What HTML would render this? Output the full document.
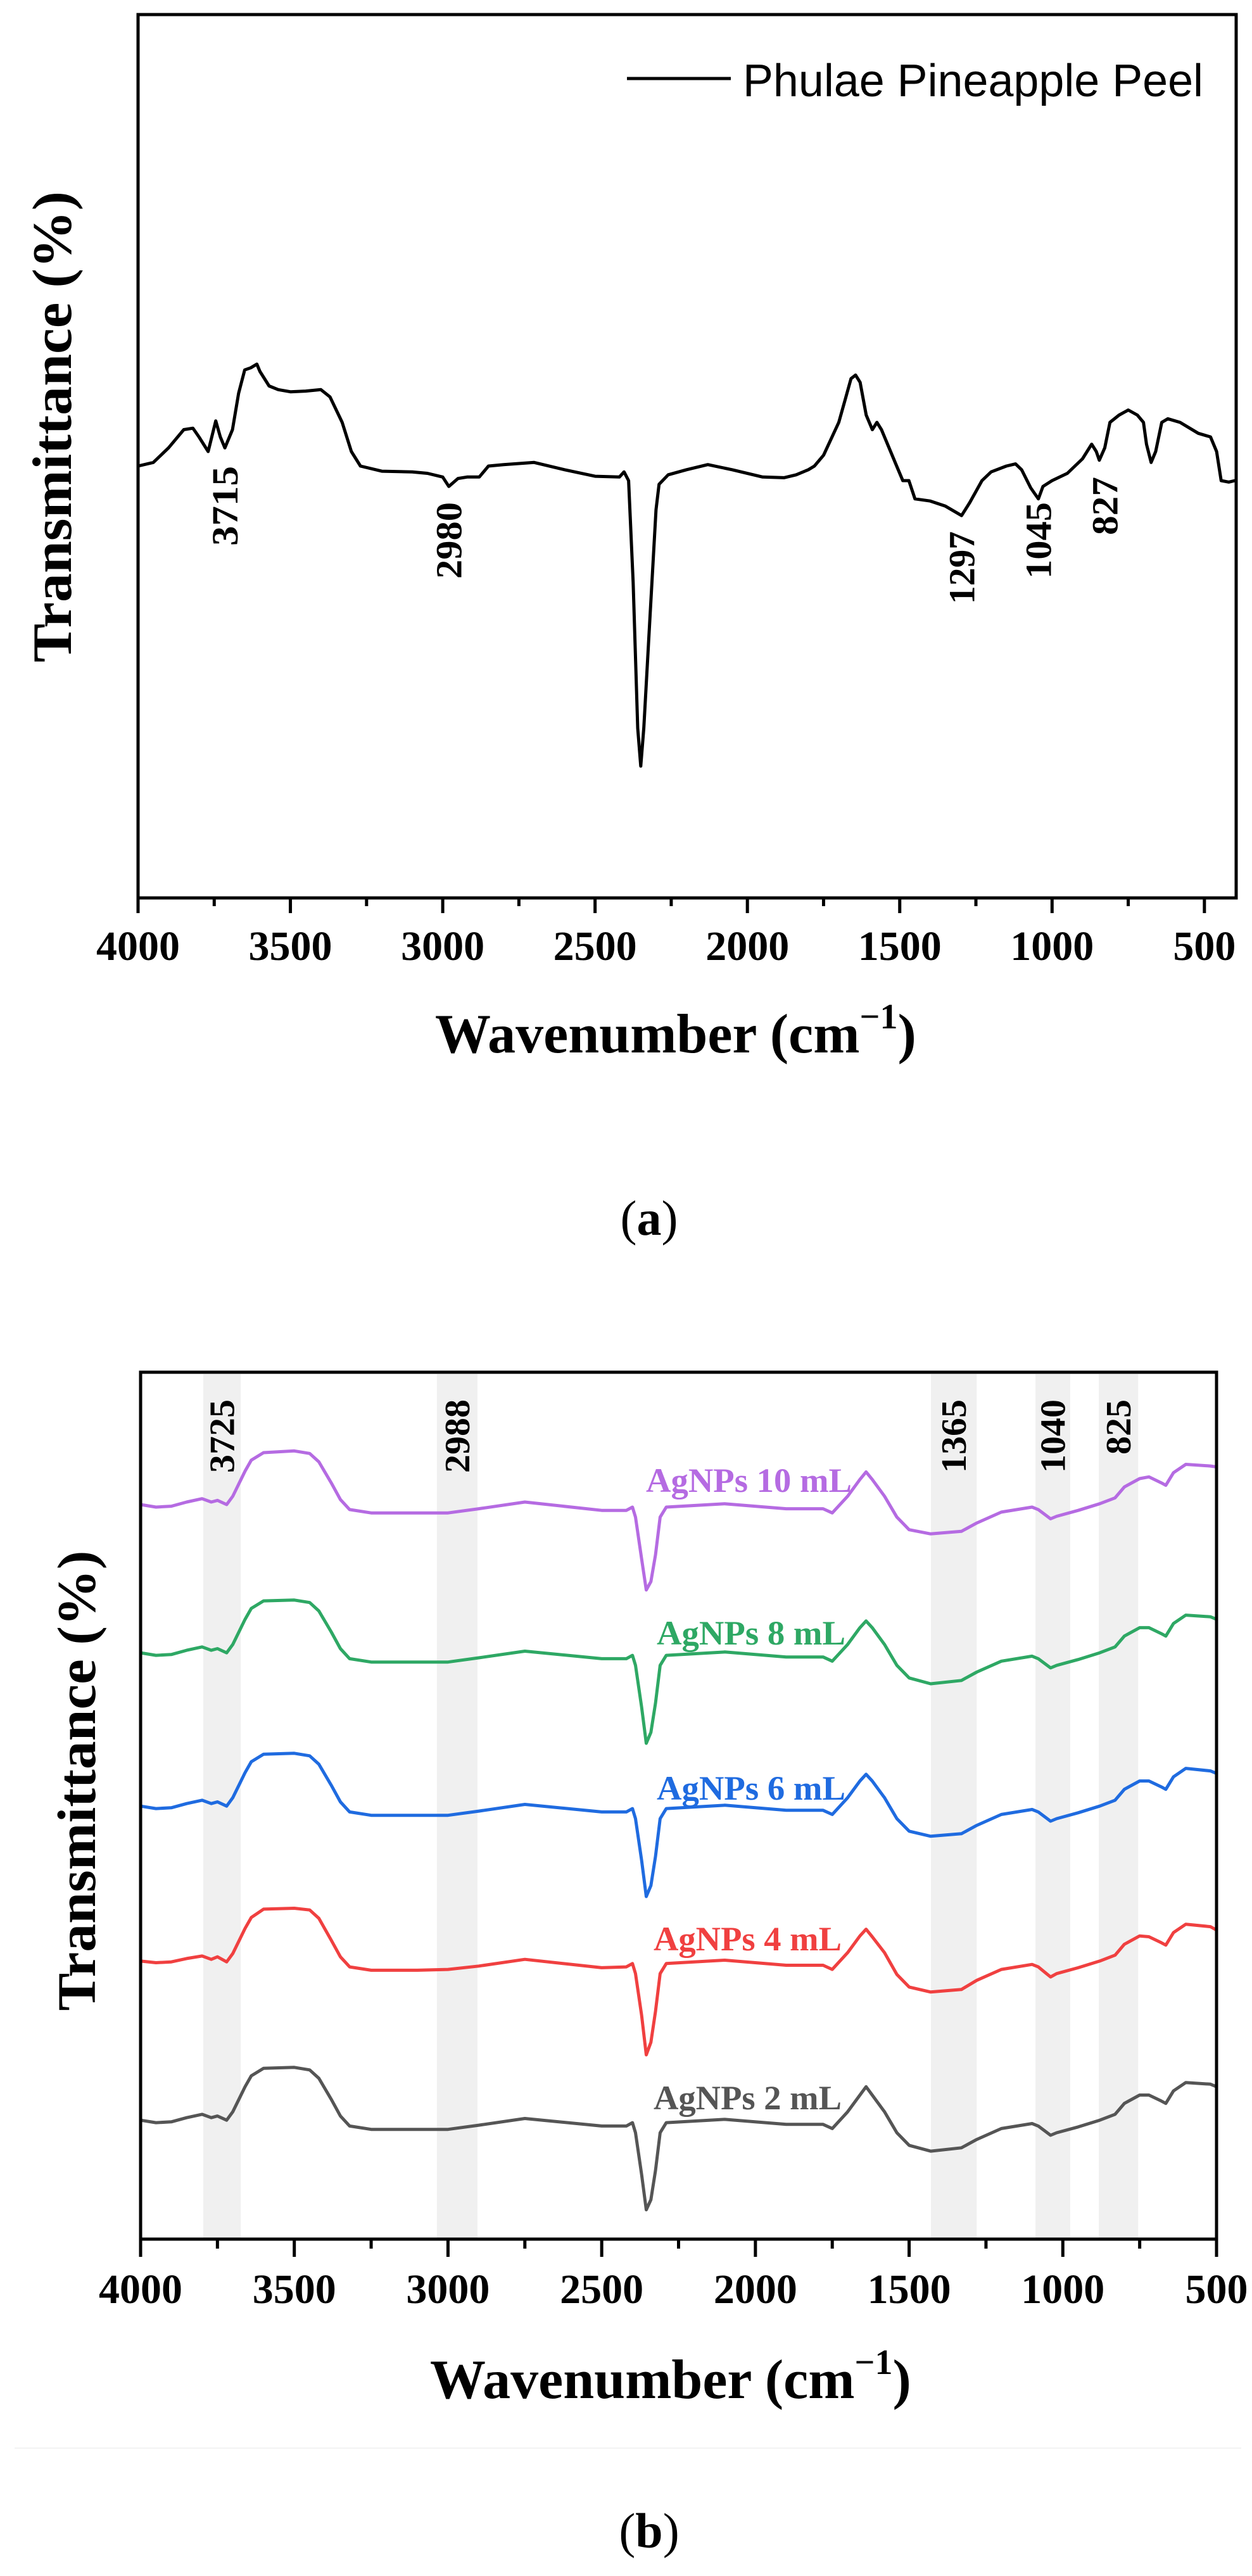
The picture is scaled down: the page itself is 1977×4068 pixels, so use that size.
<!DOCTYPE html>
<html><head><meta charset="utf-8">
<style>
html,body{margin:0;padding:0;background:#fff;}
svg{display:block;}
text{font-family:"Liberation Serif",serif;font-weight:bold;fill:#000;}
.sans{font-family:"Liberation Sans",sans-serif;font-weight:normal;}
</style></head>
<body>
<svg id="fig" xmlns="http://www.w3.org/2000/svg" width="1977" height="4068" viewBox="0 0 1977 4068">
<rect x="0" y="0" width="1977" height="4068" fill="#fff"/>
<g id="chartA"></g>
<g id="chartB"></g>
<line x1="23" y1="3866" x2="1960" y2="3866" stroke="#f3f3f3" stroke-width="2"/>
<text x="1025" y="1950" font-size="78" text-anchor="middle" style="font-weight:normal">(<tspan style="font-weight:bold">a</tspan>)</text>
<text x="1025" y="4023" font-size="78" text-anchor="middle" style="font-weight:normal">(<tspan style="font-weight:bold">b</tspan>)</text>
</svg>
<script>
// ---------- Chart A data ----------
const wnA = [4000,3950,3900,3850,3820,3800,3770,3745,3730,3715,3690,3670,3650,3630,3610,3600,3570,3540,3500,3450,3400,3370,3330,3300,3270,3200,3100,3050,3000,2980,2950,2920,2880,2850,2800,2700,2600,2500,2420,2405,2390,2375,2360,2350,2340,2320,2300,2290,2260,2200,2130,2050,1950,1880,1840,1800,1780,1750,1700,1680,1660,1645,1630,1610,1590,1575,1560,1540,1510,1490,1470,1450,1400,1350,1297,1270,1230,1200,1150,1120,1100,1070,1045,1030,1000,950,900,870,855,845,827,810,780,750,720,700,690,675,660,640,620,580,520,480,460,445,420,400];
const peelT = [593,598,618,643,645,633,613,655,633,618,643,693,725,728,733,723,703,698,695,696,698,688,653,613,593,586,585,583,578,565,576,578,578,593,595,598,588,579,578,585,573,433,233,181,233,383,533,568,581,588,595,588,578,577,581,588,593,608,653,683,713,718,708,663,643,653,643,623,593,573,573,548,545,538,525,543,573,585,593,596,588,563,548,565,573,583,603,623,613,601,618,653,663,670,663,653,623,598,613,653,658,653,638,633,613,573,571,573];
const xTicksA = [4000,3500,3000,2500,2000,1500,1000,500];
const minorTicksA = [3750,3250,2750,2250,1750,1250,750];
const peakLabelsA = ["3715","2980","1297","1045","827"];
const peakWnA = [3715,2980,1297,1045,827];
const peakTopA = [736,793,839,793,753];
const peakLenA = [126,121,115,121,92];

// ---------- Chart B data ----------
const wnB = [4000,3950,3900,3850,3800,3770,3750,3720,3700,3660,3640,3600,3500,3450,3420,3380,3350,3320,3250,3100,3000,2900,2750,2500,2420,2400,2390,2370,2355,2340,2325,2310,2290,2100,1900,1780,1750,1700,1660,1640,1620,1580,1540,1500,1430,1330,1280,1200,1100,1080,1040,1020,950,880,830,800,750,720,680,665,640,600,520,500];
const ag2 = [142,139,140,145,149,145,147,142,152,182,195,204,205,202,192,167,147,135,131,131,131,136,144,135,135,139,127,77,35,47,82,127,139,143,137,137,132,152,172,182,172,152,127,112,105,109,119,132,138,135,124,127,134,142,149,162,172,172,165,162,177,187,185,182];
const ag4 = [332,330,331,335,338,334,337,331,341,371,384,394,395,393,383,357,337,325,321,321,322,326,334,324,325,329,317,267,220,235,272,317,329,333,327,327,322,342,362,370,361,342,316,301,295,298,309,322,328,325,313,317,324,332,339,352,362,361,354,351,366,376,373,369];
const ag6 = [517,514,515,520,524,520,522,517,527,557,570,579,580,577,567,542,522,510,506,506,506,511,519,510,510,514,502,452,409,422,457,502,514,518,512,512,507,527,547,555,547,527,502,487,481,484,494,507,513,510,499,502,509,517,524,537,547,547,540,537,552,562,559,556];
const ag8 = [700,697,698,703,707,703,705,700,710,740,753,762,763,760,750,725,705,693,689,689,689,694,702,693,693,697,685,635,592,605,640,685,697,701,695,695,690,710,730,738,730,710,685,670,663,667,677,690,696,693,682,685,692,700,707,720,730,730,723,720,735,745,743,740];
const ag10 = [877,874,875,880,884,880,882,877,887,917,930,939,941,938,928,903,883,871,867,867,867,872,880,870,870,874,862,812,775,785,817,862,874,878,872,872,867,887,907,916,907,887,862,847,842,845,855,868,874,871,860,863,870,878,885,898,908,910,903,900,915,925,923,922];
const seriesNamesB = ["AgNPs 2 mL","AgNPs 4 mL","AgNPs 6 mL","AgNPs 8 mL","AgNPs 10 mL"];
const xTicksB = [4000,3500,3000,2500,2000,1500,1000,500];
const minorTicksB = [3750,3250,2750,2250,1750,1250,750];
const bandLabelsB = ["3725","2988","1365","1040","825"];
const bandLoB = [3796,3036,1429,1089,883];
const bandHiB = [3674,2904,1280,976,755];

const NS = "http://www.w3.org/2000/svg";
function mk(tag, attrs, parent, txt){
  const e = document.createElementNS(NS, tag);
  for (const k in attrs) e.setAttribute(k, attrs[k]);
  if (txt !== undefined) e.textContent = txt;
  parent.appendChild(e);
  return e;
}

// ===== Chart A =====
(function(){
  const g = document.getElementById('chartA');
  const L=218, R=1952, T=23, B=1418;
  const xA = wn => L + (4000 - wn) * 0.4811;
  const yA = v => B - v / 1213 * (B - T);
  let d = '';
  wnA.forEach((w,i)=>{ d += (i?'L':'M') + xA(w).toFixed(1) + ' ' + yA(peelT[i]).toFixed(1); });
  const p = mk('path', {d:d, fill:'none', stroke:'#000', 'stroke-width':5, 'stroke-linejoin':'round'}, g);
  
  
  const fr = mk('rect', {x:L, y:T, width:R-L, height:B-T, fill:'none', stroke:'#000', 'stroke-width':5}, g);
  
  
  xTicksA.forEach(w=>{
    const t = mk('line', {x1:xA(w), x2:xA(w), y1:B, y2:B+24, stroke:'#000', 'stroke-width':5}, g);
    
    
    const lb = mk('text', {x:xA(w), y:1516, 'font-size':66, 'text-anchor':'middle'}, g, String(w));
    
    
  });
  minorTicksA.forEach(w=>{
    const t = mk('line', {x1:xA(w), x2:xA(w), y1:B, y2:B+13, stroke:'#000', 'stroke-width':5}, g);
    
    
  });
  peakLabelsA.forEach((s,i)=>{
    const cx = xA(peakWnA[i]) + 20, y0 = peakTopA[i] + peakLenA[i];
    const t = mk('text', {x:0, y:0, 'font-size':58, transform:`translate(${cx},${y0}) rotate(-90)`, textLength:peakLenA[i], lengthAdjust:'spacingAndGlyphs'}, g, s);
    
    
  });
  const ll = mk('line', {x1:990, x2:1154, y1:124, y2:124, stroke:'#000', 'stroke-width':5}, g);
  
  
  const lt = mk('text', {x:1173, y:152, 'font-size':72, class:'sans', textLength:727, lengthAdjust:'spacingAndGlyphs'}, g, 'Phulae Pineapple Peel');
  
  
  const yt = mk('text', {x:0, y:0, 'font-size':88, 'text-anchor':'middle', transform:'translate(112,674) rotate(-90)', textLength:744, lengthAdjust:'spacingAndGlyphs'}, g, 'Transmittance (%)');
  
  
  const xt = mk('text', {x:687, y:1662, 'font-size':88}, g);
  
  
  mk('tspan', {}, xt, 'Wavenumber (cm');
  mk('tspan', {'font-size':56, dy:-38}, xt, '\u22121');
  mk('tspan', {dy:38}, xt, ')');
})();

// ===== Chart B =====
(function(){
  const g = document.getElementById('chartB');
  const L=222, R=1921, T=2167, B=3536;
  const xB = wn => L + (4000 - wn) * (R - L) / 3500;
  const yB = v => B - v / 1035 * (B - T);
  bandLoB.forEach((lo,i)=>{
    const r = mk('rect', {x:xB(lo), y:T+3, width:xB(bandHiB[i])-xB(lo), height:B-T-3, fill:'#f0f0f0'}, g);
    
    
  });
  const series = [ag2, ag4, ag6, ag8, ag10];
  const colors = ['#555555','#f04040','#1f6be0','#2ea864','#b56be2'];
  const labX = [1032,1032,1037,1037,1020];
  const labY = [3331,3080,2842,2597,2356];
  const labW = [297,297,298,298,325];
  series.forEach((s,k)=>{
    let d='';
    wnB.forEach((w,i)=>{ d += (i?'L':'M') + xB(w).toFixed(1) + ' ' + yB(s[i]).toFixed(1); });
    const p = mk('path', {d:d, fill:'none', stroke:colors[k], 'stroke-width':5, 'stroke-linejoin':'round'}, g);
    
    
    const t = mk('text', {x:labX[k], y:labY[k], 'font-size':54, fill:colors[k], style:'fill:'+colors[k], textLength:labW[k], lengthAdjust:'spacingAndGlyphs'}, g, seriesNamesB[k]);
    
    
  });
  const fr = mk('rect', {x:L, y:T, width:R-L, height:B-T, fill:'none', stroke:'#000', 'stroke-width':5}, g);
  
  
  xTicksB.forEach(w=>{
    const t = mk('line', {x1:xB(w), x2:xB(w), y1:B, y2:B+28, stroke:'#000', 'stroke-width':5}, g);
    
    
    const lb = mk('text', {x:xB(w), y:3637, 'font-size':66, 'text-anchor':'middle'}, g, String(w));
    
    
  });
  minorTicksB.forEach(w=>{
    const t = mk('line', {x1:xB(w), x2:xB(w), y1:B, y2:B+15, stroke:'#000', 'stroke-width':5}, g);
    
    
  });
  bandLabelsB.forEach((s,i)=>{
    const cx = (xB(bandLoB[i]) + xB(bandHiB[i]))/2 + 19;
    const len = s.length * 29;
    const t = mk('text', {x:0, y:0, 'font-size':56, transform:`translate(${cx},${2210+len}) rotate(-90)`, textLength:len, lengthAdjust:'spacingAndGlyphs'}, g, s);
    
    
  });
  const yt = mk('text', {x:0, y:0, 'font-size':86, 'text-anchor':'middle', transform:'translate(150,2812) rotate(-90)', textLength:727, lengthAdjust:'spacingAndGlyphs'}, g, 'Transmittance (%)');
  
  
  const xt = mk('text', {x:679, y:3787, 'font-size':88}, g);
  
  
  mk('tspan', {}, xt, 'Wavenumber (cm');
  mk('tspan', {'font-size':56, dy:-38}, xt, '\u22121');
  mk('tspan', {dy:38}, xt, ')');
})();
</script>
</body></html>
